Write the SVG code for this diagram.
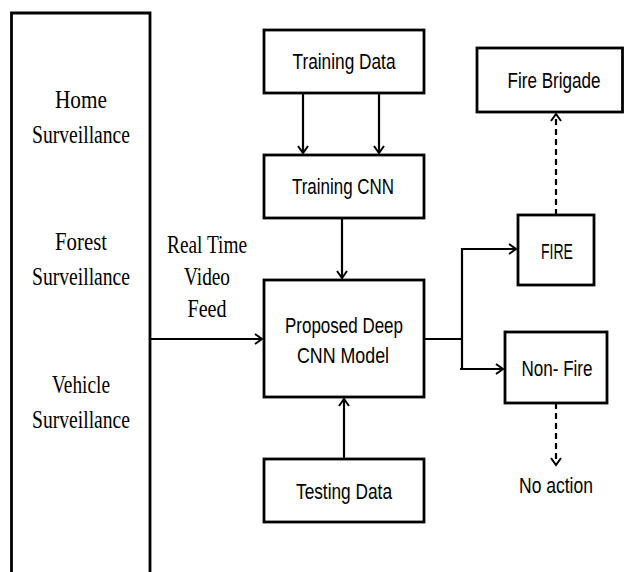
<svg xmlns="http://www.w3.org/2000/svg" width="625" height="572" viewBox="0 0 625 572">
<defs>
<marker id="arr" viewBox="0 0 12 12" refX="10" refY="6" markerWidth="12" markerHeight="12" markerUnits="userSpaceOnUse" orient="auto">
<path d="M3,1 L10,6 L3,11" fill="none" stroke="#000" stroke-width="2"/>
</marker>
<style>
.box{fill:#fff;stroke:#000;stroke-width:2.8}
.ln{fill:none;stroke:#000;stroke-width:2.2}
.dash{fill:none;stroke:#000;stroke-width:2.2;stroke-dasharray:6,4}
.sf{font-family:"Liberation Serif",serif;font-size:25px;fill:#000;text-anchor:middle}
.ss{font-family:"Liberation Sans",sans-serif;font-size:22px;fill:#000;text-anchor:middle}
</style>
</defs>
<rect width="625" height="572" fill="#fff"/>
<g id="sources">
<path d="M11.5,580 V13 H150 V580" class="box"/>
<text x="81" y="108" class="sf" textLength="52" lengthAdjust="spacingAndGlyphs">Home</text>
<text x="81" y="143" class="sf" textLength="98" lengthAdjust="spacingAndGlyphs">Surveillance</text>
<text x="81" y="250" class="sf" textLength="52" lengthAdjust="spacingAndGlyphs">Forest</text>
<text x="81" y="285" class="sf" textLength="98" lengthAdjust="spacingAndGlyphs">Surveillance</text>
<text x="81" y="393" class="sf" textLength="58" lengthAdjust="spacingAndGlyphs">Vehicle</text>
<text x="81" y="428" class="sf" textLength="98" lengthAdjust="spacingAndGlyphs">Surveillance</text>
</g>
<g id="feed-label">
<text x="207" y="253" class="sf" textLength="80" lengthAdjust="spacingAndGlyphs">Real Time</text>
<text x="207" y="285" class="sf" textLength="46" lengthAdjust="spacingAndGlyphs">Video</text>
<text x="207" y="317" class="sf" textLength="39" lengthAdjust="spacingAndGlyphs">Feed</text>
</g>
<g id="training-data">
<rect x="264" y="30" width="160" height="63" class="box"/>
<text x="344" y="69" class="ss" textLength="103" lengthAdjust="spacingAndGlyphs">Training Data</text>
</g>
<g id="training-cnn">
<rect x="264" y="155" width="160" height="63" class="box"/>
<text x="343" y="194" class="ss" textLength="102" lengthAdjust="spacingAndGlyphs">Training CNN</text>
</g>
<g id="proposed">
<rect x="264" y="280" width="160" height="117" class="box"/>
<text x="344" y="333" class="ss" textLength="118" lengthAdjust="spacingAndGlyphs">Proposed Deep</text>
<text x="343" y="363" class="ss" textLength="92" lengthAdjust="spacingAndGlyphs">CNN Model</text>
</g>
<g id="testing-data">
<rect x="264" y="459" width="160" height="63" class="box"/>
<text x="344" y="499" class="ss" textLength="96" lengthAdjust="spacingAndGlyphs">Testing Data</text>
</g>
<g id="fire-brigade">
<rect x="477" y="48" width="145.5" height="64" class="box"/>
<text x="554" y="88" class="ss" textLength="93" lengthAdjust="spacingAndGlyphs">Fire Brigade</text>
</g>
<g id="fire">
<rect x="518" y="215" width="76" height="70" class="box"/>
<text x="557" y="259" class="ss" textLength="32" lengthAdjust="spacingAndGlyphs">FIRE</text>
</g>
<g id="non-fire">
<rect x="505" y="332" width="102" height="71" class="box"/>
<text x="557" y="376" class="ss" textLength="71" lengthAdjust="spacingAndGlyphs">Non- Fire</text>
</g>
<g id="no-action">
<text x="556" y="493" class="ss" textLength="74" lengthAdjust="spacingAndGlyphs">No action</text>
</g>
<g id="connectors">
<line x1="303" y1="93" x2="303" y2="153" class="ln" marker-end="url(#arr)"/>
<line x1="379" y1="93" x2="379" y2="153" class="ln" marker-end="url(#arr)"/>
<line x1="342" y1="218" x2="342" y2="278" class="ln" marker-end="url(#arr)"/>
<line x1="344" y1="459" x2="344" y2="399" class="ln" marker-end="url(#arr)"/>
<line x1="150" y1="339" x2="262" y2="339" class="ln" marker-end="url(#arr)"/>
<path d="M424,339 H462" class="ln"/>
<path d="M462,369 V249 H516" class="ln" marker-end="url(#arr)"/>
<path d="M460,369 H503" class="ln" marker-end="url(#arr)"/>
<line x1="556" y1="215" x2="556" y2="114" class="dash" marker-end="url(#arr)"/>
<line x1="556" y1="403" x2="556" y2="465" class="dash" marker-end="url(#arr)"/>
</g>
</svg>
